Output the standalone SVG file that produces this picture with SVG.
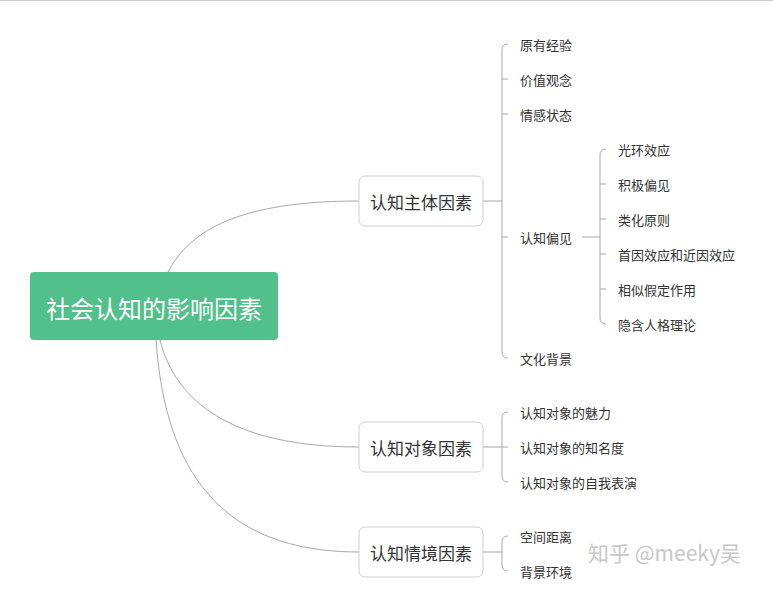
<svg xmlns="http://www.w3.org/2000/svg" width="773" height="613" viewBox="0 0 773 613">
<style>
text{font-family:"Noto Sans CJK SC","Liberation Sans",sans-serif}
.c{fill:none;stroke:#a9a9a9;stroke-width:1}
.b{fill:#fff;stroke:#d0d0d0;stroke-width:1}
.bt{font-size:17px;fill:#333;text-anchor:middle;dominant-baseline:central}
.l{font-size:13px;fill:#333;dominant-baseline:central}
</style>
<rect width="773" height="613" fill="#fff"/>
<line x1="0" y1="0.5" x2="773" y2="0.5" stroke="#ccc"/>
<g id="connectors">
<path class="c" d="M168 272 C190 230,240 201,359 201"/>
<path class="c" d="M160 340 C175 400,230 447,359 447"/>
<path class="c" d="M156 340 C165 470,220 552,359 552"/>
<path class="c" d="M483 201 H502 M508 44 Q502 44 502 50 V352 Q502 358 508 358 M502 79 H508 M502 114 H508 M502 237 H508"/>
<path class="c" d="M582 237 H600 M606 149 Q600 149 600 155 V318 Q600 324 606 324 M600 184 H606 M600 219 H606 M600 254 H606 M600 289 H606"/>
<path class="c" d="M483 447 H508 M508 412 Q502 412 502 418 V476 Q502 482 508 482"/>
<path class="c" d="M483 552 H502 M508 536 Q502 536 502 542 V565 Q502 571 508 571"/>
</g>
<g id="root"><rect x="30" y="272" width="248" height="68" rx="4" fill="#52c08a"/><text x="154" y="307" font-size="24" fill="#fff" text-anchor="middle" dominant-baseline="central">社会认知的影响因素</text></g>
<g id="n1"><rect class="b" x="359" y="176" width="124" height="50" rx="6"/><text class="bt" x="421" y="201">认知主体因素</text></g>
<g id="n2"><rect class="b" x="359" y="422" width="124" height="50" rx="6"/><text class="bt" x="421" y="447">认知对象因素</text></g>
<g id="n3"><rect class="b" x="359" y="527" width="124" height="50" rx="6"/><text class="bt" x="421" y="552">认知情境因素</text></g>
<g id="leaves">
<text class="l" x="520" y="44">原有经验</text>
<text class="l" x="520" y="79">价值观念</text>
<text class="l" x="520" y="114">情感状态</text>
<text class="l" x="520" y="237">认知偏见</text>
<text class="l" x="520" y="358">文化背景</text>
<text class="l" x="618" y="149">光环效应</text>
<text class="l" x="618" y="184">积极偏见</text>
<text class="l" x="618" y="219">类化原则</text>
<text class="l" x="618" y="254">首因效应和近因效应</text>
<text class="l" x="618" y="289">相似假定作用</text>
<text class="l" x="618" y="324">隐含人格理论</text>
<text class="l" x="520" y="412">认知对象的魅力</text>
<text class="l" x="520" y="447">认知对象的知名度</text>
<text class="l" x="520" y="482">认知对象的自我表演</text>
<text class="l" x="520" y="536">空间距离</text>
<text class="l" x="520" y="571">背景环境</text>
</g>
<text x="588" y="552" font-size="21" fill="#c8c8c8" dominant-baseline="central">知乎 @meeky吴</text>
</svg>
